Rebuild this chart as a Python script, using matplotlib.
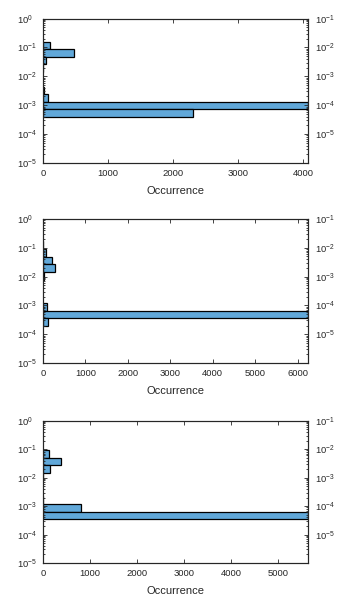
import numpy as np
import matplotlib.pyplot as plt
from matplotlib.ticker import LogLocator, NullFormatter, FixedLocator

plt.rcParams['font.family'] = ['Liberation Sans', 'DejaVu Sans']
plt.rcParams['mathtext.fontset'] = 'custom'
plt.rcParams['mathtext.rm'] = 'Liberation Sans'
plt.rcParams['mathtext.it'] = 'Liberation Sans:italic'

TEXT_COLOR = '#262626'
FACE_COLOR = (0.38, 0.66, 0.85)

# log10 bin edges (top to bottom) and counts per bin for each run
edges_1 = [-0.80, -1.06, -1.32, -1.58, -1.84, -2.10, -2.36, -2.62, -2.88,
           -3.14, -3.40]
counts_1 = [107, 470, 45, 6, 0, 0, 10, 70, 4080, 2300]

edges_2 = [-0.776, -1.043, -1.31, -1.577, -1.844, -2.111, -2.378, -2.645,
           -2.912, -3.179, -3.446, -3.713]
counts_2 = [8, 80, 210, 290, 30, 0, 0, 0, 95, 6250, 110]

edges_3 = [-1.03, -1.30, -1.57, -1.84, -2.11, -2.38, -2.65, -2.92, -3.19,
           -3.46]
counts_3 = [120, 375, 140, 10, 0, 0, 10, 800, 5640]

x_ticks_1 = [0, 1000, 2000, 3000, 4000]
x_ticks_2 = [0, 1000, 2000, 3000, 4000, 5000, 6000]
x_ticks_3 = [0, 1000, 2000, 3000, 4000, 5000]

left_ticks = [1e-5, 1e-4, 1e-3, 1e-2, 1e-1, 1e0]
right_ticks = [1e-5, 1e-4, 1e-3, 1e-2, 1e-1]

# axes boxes in figure fractions: left, bottom, width, height
boxes = [[0.1239, 0.7306, 0.7646, 0.2388],
         [0.1239, 0.4000, 0.7646, 0.2380],
         [0.1239, 0.0694, 0.7646, 0.2352]]


def style_axis(axis):
    """Box with inward ticks and dark grey labels."""
    for spine in axis.spines.values():
        spine.set_color(TEXT_COLOR)
        spine.set_linewidth(0.8)
    axis.tick_params(which='both', direction='in', colors=TEXT_COLOR,
                     labelsize=6.8, width=0.6)
    axis.tick_params(which='major', length=3)
    axis.tick_params(which='minor', length=1.6)


def draw_panel(fig, box, edges, counts, x_ticks):
    ax = fig.add_axes(box)
    edges = np.array(edges)
    counts = np.array(counts)
    upper = 10.0 ** edges[:-1]
    lower = 10.0 ** edges[1:]
    keep = counts > 0
    ax.barh(lower[keep], counts[keep], height=(upper - lower)[keep],
            left=0, align='edge', color=FACE_COLOR, edgecolor='black',
            linewidth=0.9)
    ax.set_yscale('log')
    ax.set_ylim(1e-5, 1e0)
    ax.set_xlim(0, counts.max())
    ax.set_xticks(x_ticks)
    ax.set_yticks(left_ticks)
    ax.yaxis.set_minor_locator(LogLocator(base=10, subs=np.arange(2, 10)))
    ax.yaxis.set_minor_formatter(NullFormatter())
    style_axis(ax)
    ax.tick_params(axis='x', top=True, pad=4.5)
    ax.tick_params(axis='y', right=False, which='both', pad=18.5)
    ax.set_xlabel('Occurrence', fontsize=8, color=TEXT_COLOR, labelpad=5.5)

    # second scale on the right, one decade lower
    ax_right = ax.twinx()
    ax_right.set_yscale('log')
    ax_right.set_ylim(1e-6, 1e-1)
    ax_right.yaxis.set_major_locator(FixedLocator(right_ticks))
    ax_right.yaxis.set_minor_locator(
        LogLocator(base=10, subs=np.arange(2, 10)))
    ax_right.yaxis.set_minor_formatter(NullFormatter())
    style_axis(ax_right)
    ax_right.tick_params(axis='y', which='both', pad=5)
    return ax


fig = plt.figure(figsize=(3.47, 6.05), dpi=100)
panels = [draw_panel(fig, boxes[0], edges_1, counts_1, x_ticks_1),
          draw_panel(fig, boxes[1], edges_2, counts_2, x_ticks_2),
          draw_panel(fig, boxes[2], edges_3, counts_3, x_ticks_3)]

# left labels start at a common x, as the base "10" lines up
for panel in panels:
    for label in panel.get_yticklabels():
        label.set_horizontalalignment('left')

fig.savefig('out.png', dpi=100)
